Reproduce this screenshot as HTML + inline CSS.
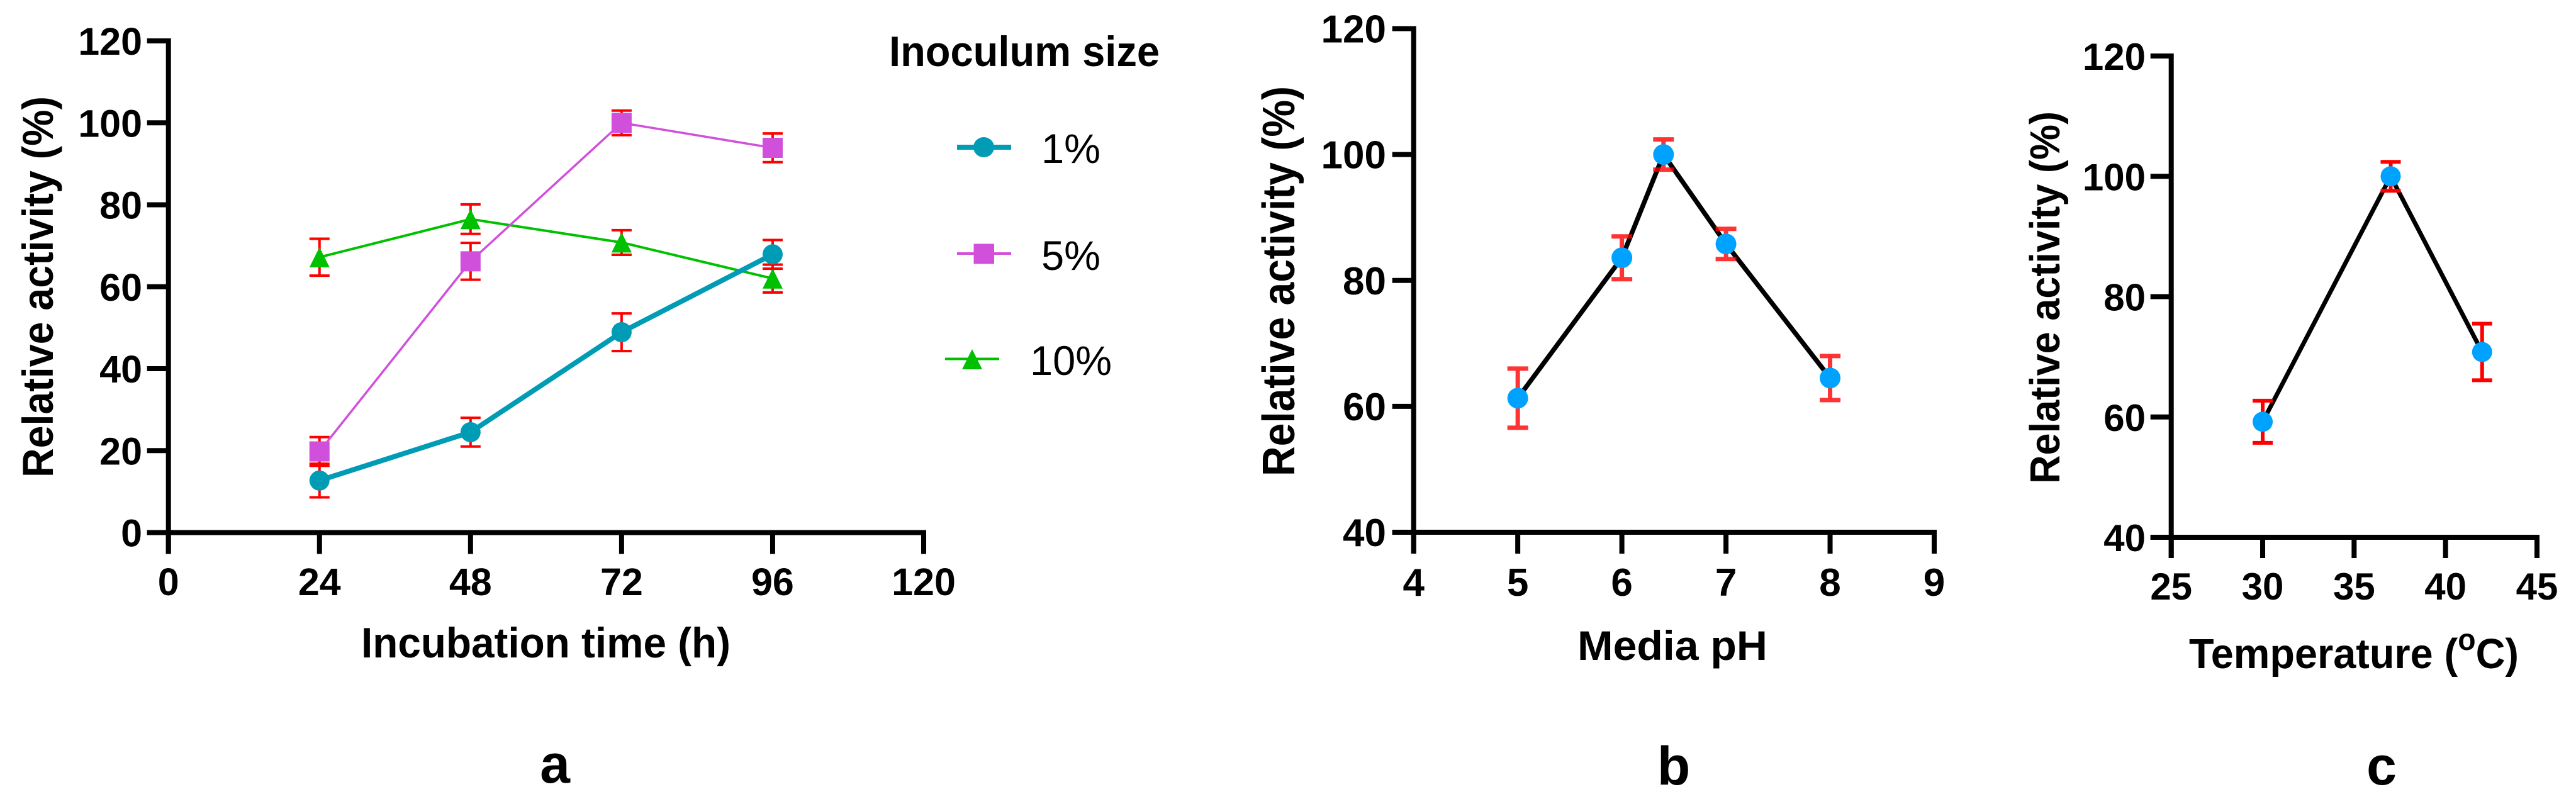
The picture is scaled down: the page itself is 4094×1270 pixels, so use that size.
<!DOCTYPE html>
<html lang="en">
<head>
<meta charset="utf-8">
<title>Relative activity charts</title>
<style>
html,body{margin:0;padding:0;background:#fff;}
svg{display:block;}
text{font-family:"Liberation Sans",Arial,sans-serif;fill:#000;}
.b{font-weight:bold;}
</style>
</head>
<body>
<svg id="figure" xmlns="http://www.w3.org/2000/svg" width="4094" height="1270" viewBox="0 0 4094 1270">
  <rect width="4094" height="1270" fill="#fff"/>
  <g id="panel-a"></g>
  <g id="panel-b"></g>
  <g id="panel-c"></g>

  <text class="b" x="574" y="1045" font-size="68" textLength="587" lengthAdjust="spacingAndGlyphs">Incubation time (h)</text>
  <text class="b" transform="translate(84 759) rotate(-90)" font-size="69" textLength="606" lengthAdjust="spacingAndGlyphs">Relative activity (%)</text>
  <text class="b" x="882" y="1244" font-size="86" text-anchor="middle">a</text>

  <text class="b" x="2507" y="1049" font-size="66" textLength="302" lengthAdjust="spacingAndGlyphs">Media pH</text>
  <text class="b" transform="translate(2057 757) rotate(-90)" font-size="72" textLength="620" lengthAdjust="spacingAndGlyphs">Relative activity (%)</text>
  <text class="b" x="2660" y="1247" font-size="86" text-anchor="middle">b</text>

  <text class="b" x="3479" y="1062" font-size="67" textLength="524" lengthAdjust="spacingAndGlyphs">Temperature (<tspan font-size="48" dy="-29">o</tspan><tspan dy="29">C)</tspan></text>
  <text class="b" transform="translate(3273 769) rotate(-90)" font-size="67" textLength="592" lengthAdjust="spacingAndGlyphs">Relative activity (%)</text>
  <text class="b" x="3785" y="1247" font-size="86" text-anchor="middle">c</text>

  <g>
    <text class="b" x="1413" y="105" font-size="68" textLength="430" lengthAdjust="spacingAndGlyphs">Inoculum size</text>
    <g>
      <line x1="1521" y1="234" x2="1607" y2="234" stroke="#009BB5" stroke-width="8"/>
      <ellipse cx="1563.5" cy="234" rx="16.5" ry="16" fill="#009BB5"/>
      <text x="1655" y="259" font-size="66" textLength="94" lengthAdjust="spacingAndGlyphs">1%</text>
    </g>
    <g>
      <line x1="1521" y1="403" x2="1607" y2="403" stroke="#D050DC" stroke-width="4"/>
      <rect x="1547.5" y="387.5" width="32.5" height="32" fill="#D050DC"/>
      <text x="1655" y="429" font-size="66" textLength="94" lengthAdjust="spacingAndGlyphs">5%</text>
    </g>
    <g>
      <line x1="1502" y1="570.5" x2="1588" y2="570.5" stroke="#00C000" stroke-width="4"/>
      <polygon points="1545,555 1561,587 1529,587" fill="#00C000"/>
      <text x="1637" y="596" font-size="66" textLength="130" lengthAdjust="spacingAndGlyphs">10%</text>
    </g>
  </g>
</svg>

<script>
// ---- Panel a data ----
const aHours = [24, 48, 72, 96];
const aVals1 = [12.7, 24.5, 48.9, 67.9];
const aErr1 = [4.1, 3.5, 4.6, 3.5];
const aVals5 = [19.8, 66.2, 100, 93.9];
const aErr5 = [3.5, 4.5, 3.0, 3.5];
const aVals10 = [67.2, 76.5, 70.8, 62];
const aErr10 = [4.5, 3.6, 3.0, 3.4];
const aXTicks = [0, 24, 48, 72, 96, 120];
const aYTicks = [0, 20, 40, 60, 80, 100, 120];

// ---- Panel b data ----
const bPh = [5, 6, 6.4, 7, 8];
const bVals = [61.3, 83.6, 100, 85.8, 64.5];
const bErr = [4.7, 3.4, 2.4, 2.4, 3.5];
const bXTicks = [4, 5, 6, 7, 8, 9];
const bYTicks = [40, 60, 80, 100, 120];

// ---- Panel c data ----
const cTemp = [30, 37, 42];
const cVals = [59.2, 100, 70.8];
const cErr = [3.5, 2.4, 4.7];
const cXTicks = [25, 30, 35, 40, 45];
const cYTicks = [40, 60, 80, 100, 120];

const NS = 'http://www.w3.org/2000/svg';

function mk(parent, tag, attrs) {
  const el = document.createElementNS(NS, tag);
  for (const k in attrs) el.setAttribute(k, attrs[k]);
  parent.appendChild(el);
  return el;
}

function scale(d0, d1, r0, r1) {
  return function (v) { return r0 + (v - d0) * (r1 - r0) / (d1 - d0); };
}

function drawAxes(g, prefix, sx, sy, xTicks, yTicks, o) {
  const x0 = sx(xTicks[0]);
  const y0 = sy(yTicks[0]);
  const yAxis = mk(g, 'line', {x1: x0, y1: sy(yTicks[yTicks.length - 1]) - o.axisW / 2, x2: x0, y2: y0 + o.tick, stroke: '#000', 'stroke-width': o.axisW});
  
  
  const xAxis = mk(g, 'line', {x1: x0 - o.tick, y1: y0, x2: sx(xTicks[xTicks.length - 1]) + o.axisW / 2, y2: y0, stroke: '#000', 'stroke-width': o.axisW});
  
  
  xTicks.forEach(function (t) {
    const tk = mk(g, 'line', {x1: sx(t), y1: y0, x2: sx(t), y2: y0 + o.tick, stroke: '#000', 'stroke-width': o.axisW});
    
    
    const lb = mk(g, 'text', {x: sx(t), y: o.xBase, 'font-size': o.font, 'font-weight': 'bold', 'text-anchor': 'middle'});
    lb.textContent = String(t);
    
    
  });
  yTicks.forEach(function (t) {
    const tk = mk(g, 'line', {x1: x0 - o.tick, y1: sy(t), x2: x0, y2: sy(t), stroke: '#000', 'stroke-width': o.axisW});
    
    
    const lb = mk(g, 'text', {x: o.yRight, y: sy(t) + o.yShift, 'font-size': o.font, 'font-weight': 'bold', 'text-anchor': 'end'});
    lb.textContent = String(t);
    
    
  });
}

function drawErrors(g, name, sx, sy, xs, vals, errs, o) {
  xs.forEach(function (x, i) {
    const px = sx(x);
    const top = sy(vals[i] + errs[i]);
    const bot = sy(vals[i] - errs[i]);
    const e = mk(g, 'path', {
      d: 'M' + (px - o.cap) + ' ' + top + 'H' + (px + o.cap) + 'M' + px + ' ' + top + 'V' + bot + 'M' + (px - o.cap) + ' ' + bot + 'H' + (px + o.cap),
      fill: 'none', stroke: o.color, 'stroke-width': o.width
    });
    
    
  });
}

function drawLine(g, name, sx, sy, xs, vals, color, width) {
  const pts = xs.map(function (x, i) { return sx(x) + ',' + sy(vals[i]); }).join(' ');
  const l = mk(g, 'polyline', {points: pts, fill: 'none', stroke: color, 'stroke-width': width, 'stroke-linejoin': 'round'});
  
  
}

function drawMarkers(g, name, sx, sy, xs, vals, color, shape, r) {
  xs.forEach(function (x, i) {
    const px = sx(x);
    const py = sy(vals[i]);
    let m;
    if (shape === 'circle') m = mk(g, 'circle', {cx: px, cy: py, r: r, fill: color});
    else if (shape === 'square') m = mk(g, 'rect', {x: px - r, y: py - r, width: 2 * r, height: 2 * r, fill: color});
    else m = mk(g, 'polygon', {points: px + ',' + (py - r) + ' ' + (px + r) + ',' + (py + r) + ' ' + (px - r) + ',' + (py + r), fill: color});
    
    
  });
}

// Panel a
(function () {
  const g = document.getElementById('panel-a');
  const sx = scale(0, 120, 267.7, 1468);
  const sy = scale(0, 120, 846.5, 65);
  drawAxes(g, 'panel-a', sx, sy, aXTicks, aYTicks, {axisW: 8, tick: 34, font: 61, xBase: 946, yRight: 226, yShift: 22});
  const eb = {cap: 16, width: 4, color: '#FF0000'};
  drawErrors(g, 'series-10-percent', sx, sy, aHours, aVals10, aErr10, eb);
  drawLine(g, 'series-10-percent', sx, sy, aHours, aVals10, '#00C000', 4);
  drawMarkers(g, 'series-10-percent', sx, sy, aHours, aVals10, '#00C000', 'triangle', 16);
  drawErrors(g, 'series-5-percent', sx, sy, aHours, aVals5, aErr5, eb);
  drawLine(g, 'series-5-percent', sx, sy, aHours, aVals5, '#D050DC', 3.5);
  drawMarkers(g, 'series-5-percent', sx, sy, aHours, aVals5, '#D050DC', 'square', 16);
  drawErrors(g, 'series-1-percent', sx, sy, aHours, aVals1, aErr1, eb);
  drawLine(g, 'series-1-percent', sx, sy, aHours, aVals1, '#009BB5', 8);
  drawMarkers(g, 'series-1-percent', sx, sy, aHours, aVals1, '#009BB5', 'circle', 16);
})();

// Panel b
(function () {
  const g = document.getElementById('panel-b');
  const sx = scale(4, 9, 2246.7, 3074);
  const sy = scale(40, 120, 846, 45.5);
  drawAxes(g, 'panel-b', sx, sy, bXTicks, bYTicks, {axisW: 8, tick: 34, font: 62, xBase: 947, yRight: 2203, yShift: 22});
  drawLine(g, 'media-ph', sx, sy, bPh, bVals, '#000', 7.5);
  drawErrors(g, 'media-ph', sx, sy, bPh, bVals, bErr, {cap: 16.5, width: 7, color: 'rgba(255,0,0,0.8)'});
  drawMarkers(g, 'media-ph', sx, sy, bPh, bVals, '#00A2FF', 'circle', 16.5);
})();

// Panel c
(function () {
  const g = document.getElementById('panel-c');
  const sx = scale(25, 45, 3450.7, 4032);
  const sy = scale(40, 120, 854, 89);
  drawAxes(g, 'panel-c', sx, sy, cXTicks, cYTicks, {axisW: 8, tick: 33, font: 60, xBase: 953, yRight: 3410, yShift: 22});
  drawLine(g, 'temperature', sx, sy, cTemp, cVals, '#000', 7);
  drawErrors(g, 'temperature', sx, sy, cTemp, cVals, cErr, {cap: 16, width: 6, color: '#FF0000'});
  drawMarkers(g, 'temperature', sx, sy, cTemp, cVals, '#00A2FF', 'circle', 16);
})();
</script>
</body>
</html>
